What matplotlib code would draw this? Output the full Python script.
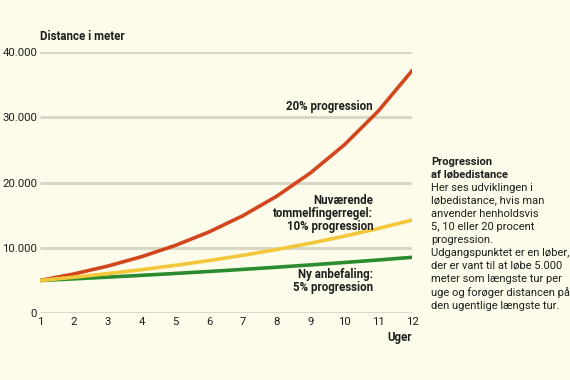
import matplotlib
matplotlib.use("Agg")
import matplotlib.pyplot as plt

plt.rcParams['font.family'] = ['Roboto', 'DejaVu Sans']

weeks = [1, 2, 3, 4, 5, 6, 7, 8, 9, 10, 11, 12]
prog20 = [5000, 6000, 7200, 8640, 10368, 12442, 14930, 17916, 21499, 25799, 30959, 37150]
prog10 = [5000, 5500, 6050, 6655, 7321, 8053, 8858, 9744, 10718, 11790, 12969, 14266]
prog5 = [5000, 5250, 5513, 5788, 6078, 6381, 6700, 7036, 7387, 7757, 8144, 8552]
yticks = [0, 10000, 20000, 30000, 40000]
ytick_labels = ["0", "10.000", "20.000", "30.000", "40.000"]

bg = "#FDFBE9"
txt = "#1E1E1E"
fig = plt.figure(figsize=(5.7, 3.8), dpi=100, facecolor=bg)
ax = fig.add_axes([0.070, 0.176, 0.653, 0.687], facecolor=bg)

for yv in yticks:
    ax.axhline(yv, color="#D9D7C8", lw=2.2, zorder=1, solid_capstyle="butt")

ax.plot(weeks, prog20, color="#D2461E", lw=2.6, solid_capstyle="round",
        solid_joinstyle="round", zorder=3)
ax.plot(weeks, prog10, color="#F2C73A", lw=2.6, solid_capstyle="round",
        solid_joinstyle="round", zorder=3)
ax.plot(weeks, prog5, color="#2A8C2E", lw=2.6, solid_capstyle="round",
        solid_joinstyle="round", zorder=2)

ax.set_xlim(1, 12)
ax.set_ylim(0, 40000)
ax.set_xticks(weeks)
ax.set_xticklabels([str(w) for w in weeks], fontsize=8.2, color=txt)
ax.set_yticks(yticks)
ax.set_yticklabels(ytick_labels, fontsize=8.2, color=txt)
ax.tick_params(length=0, pad=3)
ax.tick_params(axis='y', pad=2)
for s in ax.spines.values():
    s.set_visible(False)

ax.text(10.82, 31700, "20% progression", ha="right", va="center", fontsize=8.3,
        fontweight="bold", color=txt)
ax.text(10.85, 15300, "Nuværende\ntommelfingerregel:\n10% progression", ha="right",
        va="center", fontsize=8.3, fontweight="bold", color=txt, linespacing=1.02)
ax.text(10.85, 4900, "Ny anbefaling:\n5% progression", ha="right", va="center",
        fontsize=8.3, fontweight="bold", color=txt, linespacing=1.02)

fig.text(0.070, 0.903, "Distance i meter", ha="left", va="center", fontsize=8.3,
         fontweight="bold", color=txt)
fig.text(0.723, 0.112, "Uger", ha="right", va="center", fontsize=8.3,
         fontweight="bold", color=txt)

fig.text(0.757, 0.586, "Progression\naf løbedistance", ha="left", va="top",
         fontsize=8, fontweight="bold", color=txt, linespacing=1.3)
fig.text(0.757, 0.5195,
         "Her ses udviklingen i\nløbedistance, hvis man\nanvender henholdsvis\n"
         "5, 10 eller 20 procent\nprogression.\nUdgangspunktet er en løber,\n"
         "der er vant til at løbe 5.000\nmeter som længste tur per\n"
         "uge og forøger distancen på\nden ugentlige længste tur.",
         ha="left", va="top", fontsize=8, color=txt, linespacing=1.375)

fig.savefig("out.png", dpi=100, facecolor=bg)
